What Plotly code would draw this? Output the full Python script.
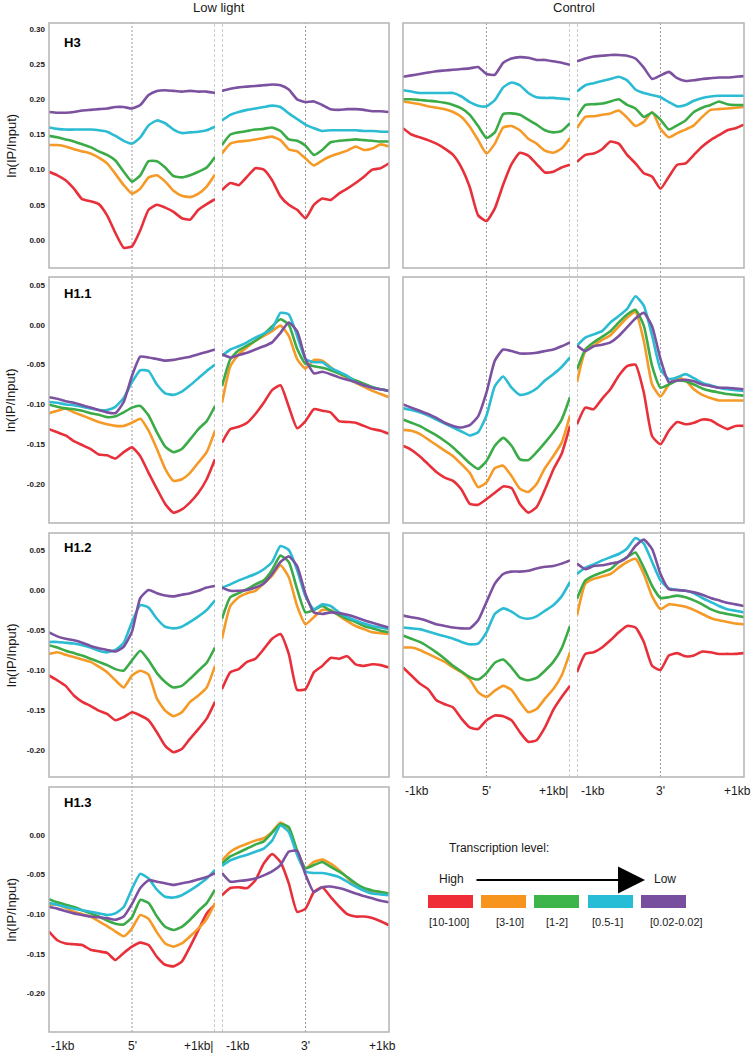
import plotly.graph_objects as go

W, H = 755, 1055

# ---------------- data ----------------
x_kb = [-1.0, -0.9, -0.8, -0.7, -0.6, -0.5, -0.4, -0.3, -0.2, -0.1, 0.0,
        0.1, 0.2, 0.3, 0.4, 0.5, 0.6, 0.7, 0.8, 0.9, 1.0]

levels = ["[10-100]", "[3-10]", "[1-2]", "[0.5-1]", "[0.02-0.02]"]
line_colors = ["#e8303a", "#f59a27", "#3bab48", "#2bbcd3", "#7b51a0"]
swatch_colors = ["#ee2d37", "#f7941d", "#3db54a", "#27bdd6", "#774f9e"]

histones = ["H3", "H1.1", "H1.2", "H1.3"]
conditions = ["Low light", "Control"]

# H3 - Low light
H3_LL_5_red = [0.097,0.092,0.085,0.073,0.058,0.055,0.051,0.035,0.010,-0.011,-0.009,0.014,0.043,0.050,0.046,0.040,0.031,0.029,0.043,0.051,0.058]
H3_LL_5_org = [0.135,0.135,0.133,0.129,0.126,0.123,0.117,0.109,0.094,0.078,0.066,0.073,0.089,0.092,0.083,0.070,0.063,0.061,0.066,0.076,0.093]
H3_LL_5_grn = [0.148,0.146,0.143,0.140,0.136,0.132,0.126,0.121,0.113,0.097,0.083,0.092,0.112,0.112,0.103,0.091,0.089,0.092,0.097,0.103,0.118]
H3_LL_5_cyn = [0.160,0.158,0.157,0.157,0.157,0.157,0.156,0.154,0.148,0.141,0.137,0.146,0.163,0.170,0.166,0.157,0.152,0.153,0.154,0.156,0.161]
H3_LL_5_pur = [0.182,0.181,0.181,0.182,0.184,0.185,0.186,0.187,0.189,0.189,0.187,0.192,0.206,0.212,0.213,0.212,0.211,0.212,0.211,0.211,0.209]
H3_LL_3_red = [0.071,0.081,0.078,0.090,0.102,0.100,0.085,0.062,0.050,0.043,0.031,0.050,0.059,0.057,0.066,0.073,0.081,0.090,0.100,0.102,0.109]
H3_LL_3_org = [0.123,0.137,0.140,0.141,0.143,0.145,0.147,0.142,0.129,0.126,0.116,0.106,0.113,0.119,0.123,0.127,0.133,0.128,0.130,0.136,0.133]
H3_LL_3_grn = [0.135,0.150,0.153,0.155,0.157,0.158,0.160,0.155,0.143,0.141,0.134,0.121,0.128,0.139,0.141,0.142,0.143,0.142,0.141,0.140,0.140]
H3_LL_3_cyn = [0.170,0.178,0.182,0.185,0.187,0.189,0.191,0.189,0.180,0.172,0.164,0.159,0.155,0.156,0.156,0.156,0.156,0.155,0.155,0.154,0.154]
H3_LL_3_pur = [0.212,0.215,0.217,0.218,0.219,0.220,0.221,0.220,0.214,0.200,0.196,0.197,0.192,0.186,0.185,0.186,0.186,0.185,0.183,0.183,0.182]

# H3 - Control
H3_CT_5_red = [0.159,0.150,0.146,0.142,0.137,0.130,0.121,0.103,0.075,0.035,0.027,0.045,0.079,0.108,0.124,0.120,0.108,0.096,0.097,0.103,0.107]
H3_CT_5_org = [0.197,0.195,0.193,0.190,0.188,0.186,0.182,0.175,0.161,0.142,0.123,0.137,0.160,0.162,0.156,0.144,0.137,0.127,0.124,0.130,0.145]
H3_CT_5_grn = [0.200,0.200,0.199,0.198,0.197,0.195,0.192,0.187,0.178,0.162,0.145,0.153,0.179,0.180,0.178,0.171,0.164,0.156,0.153,0.155,0.166]
H3_CT_5_cyn = [0.213,0.211,0.209,0.209,0.209,0.209,0.209,0.204,0.196,0.191,0.190,0.199,0.217,0.224,0.220,0.209,0.203,0.202,0.202,0.201,0.200]
H3_CT_5_pur = [0.232,0.234,0.236,0.238,0.240,0.241,0.242,0.243,0.244,0.246,0.236,0.235,0.252,0.258,0.260,0.259,0.256,0.256,0.254,0.252,0.249]
H3_CT_3_red = [0.111,0.121,0.123,0.129,0.140,0.137,0.121,0.109,0.095,0.090,0.073,0.090,0.107,0.109,0.121,0.133,0.142,0.149,0.156,0.159,0.164]
H3_CT_3_org = [0.159,0.175,0.176,0.178,0.180,0.184,0.174,0.162,0.168,0.182,0.158,0.146,0.152,0.157,0.163,0.175,0.185,0.186,0.187,0.188,0.189]
H3_CT_3_grn = [0.175,0.192,0.193,0.194,0.197,0.200,0.192,0.187,0.175,0.181,0.171,0.157,0.163,0.170,0.182,0.188,0.192,0.197,0.193,0.192,0.192]
H3_CT_3_cyn = [0.211,0.220,0.223,0.226,0.229,0.232,0.227,0.214,0.209,0.206,0.203,0.196,0.190,0.192,0.198,0.202,0.204,0.205,0.205,0.205,0.205]
H3_CT_3_pur = [0.254,0.258,0.261,0.262,0.263,0.263,0.262,0.258,0.245,0.229,0.234,0.239,0.230,0.226,0.227,0.229,0.230,0.231,0.231,0.232,0.233]

# H1.1 - Low light
H11_LL_5_red = [-0.131,-0.135,-0.139,-0.146,-0.151,-0.156,-0.163,-0.164,-0.168,-0.160,-0.154,-0.165,-0.186,-0.206,-0.225,-0.236,-0.232,-0.223,-0.211,-0.194,-0.169]
H11_LL_5_org = [-0.111,-0.108,-0.105,-0.110,-0.114,-0.118,-0.122,-0.125,-0.127,-0.127,-0.123,-0.118,-0.133,-0.156,-0.181,-0.196,-0.194,-0.186,-0.173,-0.160,-0.133]
H11_LL_5_grn = [-0.100,-0.103,-0.105,-0.106,-0.108,-0.111,-0.113,-0.116,-0.115,-0.110,-0.104,-0.102,-0.114,-0.135,-0.153,-0.160,-0.156,-0.144,-0.131,-0.121,-0.102]
H11_LL_5_cyn = [-0.097,-0.098,-0.100,-0.101,-0.103,-0.105,-0.107,-0.107,-0.103,-0.092,-0.072,-0.057,-0.058,-0.075,-0.086,-0.088,-0.084,-0.076,-0.067,-0.058,-0.050]
H11_LL_5_pur = [-0.091,-0.093,-0.096,-0.098,-0.101,-0.104,-0.107,-0.110,-0.111,-0.097,-0.064,-0.040,-0.041,-0.043,-0.045,-0.044,-0.042,-0.040,-0.037,-0.034,-0.031]
H11_LL_3_red = [-0.148,-0.131,-0.128,-0.123,-0.112,-0.098,-0.082,-0.076,-0.103,-0.130,-0.121,-0.106,-0.108,-0.110,-0.121,-0.122,-0.123,-0.127,-0.131,-0.133,-0.137]
H11_LL_3_org = [-0.098,-0.052,-0.037,-0.028,-0.020,-0.014,-0.008,-0.001,-0.014,-0.043,-0.055,-0.044,-0.045,-0.053,-0.061,-0.067,-0.073,-0.078,-0.083,-0.087,-0.091]
H11_LL_3_grn = [-0.077,-0.043,-0.032,-0.026,-0.020,-0.012,-0.002,0.007,0.000,-0.030,-0.049,-0.052,-0.054,-0.057,-0.061,-0.065,-0.070,-0.074,-0.078,-0.081,-0.083]
H11_LL_3_cyn = [-0.039,-0.031,-0.027,-0.022,-0.016,-0.011,-0.005,0.015,0.013,-0.014,-0.043,-0.047,-0.047,-0.054,-0.059,-0.064,-0.072,-0.076,-0.079,-0.081,-0.083]
H11_LL_3_pur = [-0.037,-0.041,-0.038,-0.035,-0.031,-0.027,-0.022,-0.010,0.003,-0.008,-0.043,-0.061,-0.059,-0.062,-0.066,-0.069,-0.072,-0.076,-0.079,-0.081,-0.083]

# H1.1 - Control
H11_CT_5_red = [-0.152,-0.157,-0.165,-0.175,-0.185,-0.192,-0.196,-0.207,-0.225,-0.226,-0.219,-0.211,-0.203,-0.205,-0.225,-0.236,-0.229,-0.207,-0.182,-0.162,-0.127]
H11_CT_5_org = [-0.132,-0.133,-0.137,-0.144,-0.151,-0.158,-0.165,-0.175,-0.186,-0.204,-0.198,-0.180,-0.177,-0.190,-0.206,-0.210,-0.200,-0.180,-0.165,-0.148,-0.114]
H11_CT_5_grn = [-0.119,-0.123,-0.127,-0.133,-0.139,-0.146,-0.154,-0.164,-0.174,-0.181,-0.171,-0.152,-0.142,-0.152,-0.169,-0.170,-0.160,-0.148,-0.135,-0.119,-0.091]
H11_CT_5_cyn = [-0.105,-0.107,-0.110,-0.114,-0.119,-0.124,-0.129,-0.134,-0.139,-0.135,-0.114,-0.077,-0.065,-0.079,-0.088,-0.086,-0.080,-0.070,-0.062,-0.053,-0.041]
H11_CT_5_pur = [-0.100,-0.104,-0.108,-0.112,-0.117,-0.123,-0.127,-0.129,-0.126,-0.115,-0.085,-0.045,-0.031,-0.033,-0.036,-0.036,-0.035,-0.033,-0.031,-0.027,-0.022]
H11_CT_3_red = [-0.125,-0.104,-0.106,-0.093,-0.081,-0.064,-0.052,-0.050,-0.085,-0.140,-0.150,-0.133,-0.122,-0.125,-0.123,-0.119,-0.120,-0.126,-0.131,-0.127,-0.127]
H11_CT_3_org = [-0.072,-0.033,-0.026,-0.019,-0.013,-0.002,0.009,0.016,-0.020,-0.075,-0.090,-0.075,-0.066,-0.070,-0.081,-0.088,-0.092,-0.095,-0.095,-0.095,-0.095]
H11_CT_3_grn = [-0.056,-0.031,-0.022,-0.015,-0.008,0.003,0.013,0.019,-0.001,-0.052,-0.079,-0.075,-0.070,-0.071,-0.075,-0.080,-0.083,-0.085,-0.087,-0.088,-0.089]
H11_CT_3_cyn = [-0.026,-0.016,-0.012,-0.008,0.003,0.011,0.020,0.036,0.024,-0.014,-0.056,-0.068,-0.066,-0.062,-0.067,-0.073,-0.076,-0.079,-0.081,-0.082,-0.083]
H11_CT_3_pur = [-0.026,-0.033,-0.027,-0.025,-0.022,-0.014,-0.003,0.008,0.015,-0.002,-0.043,-0.072,-0.070,-0.069,-0.071,-0.075,-0.077,-0.079,-0.079,-0.080,-0.081]

# H1.2 - Low light
H12_LL_5_red = [-0.107,-0.113,-0.120,-0.132,-0.140,-0.145,-0.151,-0.155,-0.163,-0.159,-0.153,-0.157,-0.163,-0.178,-0.195,-0.203,-0.199,-0.186,-0.174,-0.161,-0.140]
H12_LL_5_org = [-0.080,-0.078,-0.081,-0.084,-0.087,-0.090,-0.096,-0.103,-0.113,-0.122,-0.107,-0.101,-0.106,-0.136,-0.151,-0.158,-0.153,-0.140,-0.132,-0.122,-0.095]
H12_LL_5_grn = [-0.069,-0.072,-0.076,-0.079,-0.082,-0.086,-0.090,-0.094,-0.099,-0.101,-0.088,-0.076,-0.088,-0.104,-0.115,-0.122,-0.120,-0.111,-0.101,-0.091,-0.072]
H12_LL_5_cyn = [-0.065,-0.065,-0.066,-0.067,-0.069,-0.072,-0.076,-0.078,-0.075,-0.066,-0.040,-0.019,-0.022,-0.036,-0.046,-0.048,-0.046,-0.040,-0.033,-0.025,-0.013]
H12_LL_5_pur = [-0.053,-0.058,-0.061,-0.063,-0.066,-0.070,-0.073,-0.075,-0.077,-0.071,-0.052,-0.010,0.000,-0.004,-0.007,-0.008,-0.006,-0.004,-0.001,0.003,0.005]
H12_LL_3_red = [-0.124,-0.103,-0.099,-0.090,-0.086,-0.074,-0.061,-0.055,-0.080,-0.125,-0.124,-0.103,-0.095,-0.085,-0.086,-0.083,-0.093,-0.095,-0.093,-0.094,-0.097]
H12_LL_3_org = [-0.061,-0.020,-0.009,-0.004,-0.001,0.008,0.018,0.031,0.016,-0.020,-0.043,-0.034,-0.025,-0.025,-0.032,-0.039,-0.045,-0.049,-0.053,-0.054,-0.055]
H12_LL_3_grn = [-0.036,-0.009,-0.004,0.001,0.007,0.012,0.025,0.043,0.035,0.001,-0.028,-0.025,-0.020,-0.026,-0.031,-0.036,-0.040,-0.045,-0.048,-0.051,-0.053]
H12_LL_3_cyn = [0.003,0.007,0.012,0.016,0.020,0.026,0.035,0.055,0.050,0.025,-0.008,-0.024,-0.018,-0.020,-0.028,-0.034,-0.038,-0.042,-0.045,-0.047,-0.049]
H12_LL_3_pur = [0.003,-0.001,-0.001,0.000,0.003,0.008,0.020,0.035,0.042,0.030,-0.005,-0.028,-0.030,-0.028,-0.029,-0.031,-0.034,-0.038,-0.041,-0.044,-0.047]

# H1.2 - Control
H12_CT_5_red = [-0.097,-0.107,-0.117,-0.124,-0.138,-0.143,-0.147,-0.161,-0.172,-0.174,-0.163,-0.157,-0.158,-0.163,-0.178,-0.190,-0.188,-0.172,-0.150,-0.134,-0.120]
H12_CT_5_org = [-0.072,-0.072,-0.075,-0.080,-0.085,-0.090,-0.097,-0.103,-0.112,-0.128,-0.134,-0.126,-0.120,-0.125,-0.140,-0.153,-0.149,-0.136,-0.124,-0.107,-0.078]
H12_CT_5_grn = [-0.057,-0.061,-0.065,-0.071,-0.078,-0.086,-0.095,-0.102,-0.109,-0.112,-0.104,-0.091,-0.087,-0.097,-0.110,-0.113,-0.110,-0.101,-0.090,-0.073,-0.045]
H12_CT_5_cyn = [-0.047,-0.048,-0.049,-0.052,-0.055,-0.058,-0.061,-0.065,-0.068,-0.067,-0.053,-0.030,-0.023,-0.027,-0.034,-0.036,-0.033,-0.026,-0.019,-0.008,0.010]
H12_CT_5_pur = [-0.032,-0.034,-0.036,-0.039,-0.043,-0.045,-0.047,-0.048,-0.048,-0.038,-0.015,0.008,0.020,0.023,0.023,0.024,0.027,0.029,0.030,0.033,0.037]
H12_CT_3_red = [-0.103,-0.080,-0.078,-0.072,-0.063,-0.053,-0.045,-0.047,-0.065,-0.095,-0.100,-0.082,-0.079,-0.083,-0.082,-0.077,-0.078,-0.080,-0.080,-0.080,-0.079]
H12_CT_3_org = [-0.032,0.008,0.014,0.017,0.020,0.028,0.035,0.039,0.020,-0.008,-0.024,-0.018,-0.019,-0.021,-0.025,-0.030,-0.035,-0.038,-0.040,-0.042,-0.043]
H12_CT_3_grn = [-0.011,0.012,0.018,0.022,0.026,0.035,0.041,0.047,0.028,0.005,-0.010,-0.009,-0.007,-0.009,-0.013,-0.018,-0.024,-0.028,-0.030,-0.032,-0.034]
H12_CT_3_cyn = [0.020,0.028,0.032,0.037,0.041,0.045,0.052,0.065,0.058,0.035,0.012,0.002,0.000,-0.001,-0.004,-0.010,-0.015,-0.020,-0.024,-0.026,-0.028]
H12_CT_3_pur = [0.033,0.026,0.030,0.031,0.033,0.035,0.041,0.055,0.063,0.051,0.020,0.001,0.000,-0.001,-0.003,-0.006,-0.010,-0.013,-0.016,-0.018,-0.020]

# H1.3 - Low light
H13_LL_5_red = [-0.122,-0.133,-0.137,-0.138,-0.139,-0.145,-0.147,-0.149,-0.158,-0.149,-0.141,-0.136,-0.139,-0.154,-0.164,-0.166,-0.160,-0.141,-0.120,-0.099,-0.088]
H13_LL_5_org = [-0.088,-0.088,-0.092,-0.097,-0.100,-0.103,-0.109,-0.115,-0.122,-0.128,-0.118,-0.101,-0.106,-0.123,-0.137,-0.141,-0.137,-0.128,-0.118,-0.106,-0.086]
H13_LL_5_grn = [-0.081,-0.085,-0.088,-0.091,-0.095,-0.099,-0.103,-0.108,-0.112,-0.113,-0.104,-0.082,-0.086,-0.103,-0.116,-0.120,-0.116,-0.107,-0.096,-0.086,-0.069]
H13_LL_5_cyn = [-0.086,-0.088,-0.091,-0.093,-0.095,-0.097,-0.099,-0.101,-0.099,-0.091,-0.068,-0.049,-0.055,-0.069,-0.078,-0.079,-0.076,-0.070,-0.063,-0.055,-0.044]
H13_LL_5_pur = [-0.091,-0.093,-0.096,-0.099,-0.101,-0.103,-0.104,-0.105,-0.107,-0.103,-0.087,-0.067,-0.057,-0.059,-0.061,-0.063,-0.061,-0.059,-0.056,-0.053,-0.048]
H13_LL_3_red = [-0.076,-0.067,-0.066,-0.067,-0.057,-0.036,-0.024,-0.034,-0.061,-0.097,-0.093,-0.072,-0.066,-0.078,-0.090,-0.100,-0.103,-0.103,-0.105,-0.109,-0.114]
H13_LL_3_org = [-0.032,-0.021,-0.015,-0.011,-0.007,-0.004,0.004,0.016,0.008,-0.020,-0.042,-0.034,-0.031,-0.036,-0.044,-0.054,-0.064,-0.070,-0.071,-0.072,-0.074]
H13_LL_3_grn = [-0.036,-0.027,-0.022,-0.017,-0.012,-0.008,0.003,0.014,0.010,-0.020,-0.042,-0.038,-0.034,-0.040,-0.046,-0.053,-0.061,-0.067,-0.070,-0.072,-0.074]
H13_LL_3_cyn = [-0.039,-0.032,-0.028,-0.025,-0.021,-0.017,-0.007,0.012,0.004,-0.025,-0.046,-0.048,-0.048,-0.050,-0.053,-0.059,-0.065,-0.070,-0.074,-0.075,-0.076]
H13_LL_3_pur = [-0.048,-0.059,-0.058,-0.057,-0.055,-0.051,-0.046,-0.038,-0.021,-0.020,-0.050,-0.072,-0.066,-0.065,-0.067,-0.070,-0.074,-0.077,-0.080,-0.083,-0.085]

# y tick labels per histone row
yticks_H3 = [0.00, 0.05, 0.10, 0.15, 0.20, 0.25, 0.30]
yticks_H11 = [-0.20, -0.15, -0.10, -0.05, 0.00, 0.05]
yticks_H12 = [-0.20, -0.15, -0.10, -0.05, 0.00, 0.05]
yticks_H13 = [-0.20, -0.15, -0.10, -0.05, 0.00]

x_tick_text_5 = ["-1kb", "5'", "+1kb|"]
x_tick_text_3 = ["-1kb", "3'", "+1kb"]

# ---------------- layout geometry (pixels) ----------------
def PX(x):
    return x / W


def PY(y):
    return 1 - y / H


col_halves = [[(49, 215), (222, 389)], [(403, 570), (577, 744)]]
row_px = [(23, 268), (277, 523), (533, 777), (787, 1032)]
y_ranges = [(-0.0398, 0.3085), (-0.249, 0.0601), (-0.234, 0.0713), (-0.249, 0.0608)]
row_ticks = [yticks_H3, yticks_H11, yticks_H12, yticks_H13]

panel_data = {
    (0, 0): ([H3_LL_5_red, H3_LL_5_org, H3_LL_5_grn, H3_LL_5_cyn, H3_LL_5_pur],
             [H3_LL_3_red, H3_LL_3_org, H3_LL_3_grn, H3_LL_3_cyn, H3_LL_3_pur]),
    (0, 1): ([H3_CT_5_red, H3_CT_5_org, H3_CT_5_grn, H3_CT_5_cyn, H3_CT_5_pur],
             [H3_CT_3_red, H3_CT_3_org, H3_CT_3_grn, H3_CT_3_cyn, H3_CT_3_pur]),
    (1, 0): ([H11_LL_5_red, H11_LL_5_org, H11_LL_5_grn, H11_LL_5_cyn, H11_LL_5_pur],
             [H11_LL_3_red, H11_LL_3_org, H11_LL_3_grn, H11_LL_3_cyn, H11_LL_3_pur]),
    (1, 1): ([H11_CT_5_red, H11_CT_5_org, H11_CT_5_grn, H11_CT_5_cyn, H11_CT_5_pur],
             [H11_CT_3_red, H11_CT_3_org, H11_CT_3_grn, H11_CT_3_cyn, H11_CT_3_pur]),
    (2, 0): ([H12_LL_5_red, H12_LL_5_org, H12_LL_5_grn, H12_LL_5_cyn, H12_LL_5_pur],
             [H12_LL_3_red, H12_LL_3_org, H12_LL_3_grn, H12_LL_3_cyn, H12_LL_3_pur]),
    (2, 1): ([H12_CT_5_red, H12_CT_5_org, H12_CT_5_grn, H12_CT_5_cyn, H12_CT_5_pur],
             [H12_CT_3_red, H12_CT_3_org, H12_CT_3_grn, H12_CT_3_cyn, H12_CT_3_pur]),
    (3, 0): ([H13_LL_5_red, H13_LL_5_org, H13_LL_5_grn, H13_LL_5_cyn, H13_LL_5_pur],
             [H13_LL_3_red, H13_LL_3_org, H13_LL_3_grn, H13_LL_3_cyn, H13_LL_3_pur]),
}

fig = go.Figure()
layout = {}
shapes = []
annotations = []

GRID = "#9a9a9a"
BORDER = "#b4b4b4"
TXT = "#1a1a1a"
FONT = "Arial, Liberation Sans, sans-serif"
NARROW = "Liberation Sans Narrow, Arial Narrow, Arial, sans-serif"

axis_index = {}
idx = 0
for (r, c), halves in panel_data.items():
    y0p, y1p = row_px[r]
    for h in range(2):
        idx += 1
        axis_index[(r, c, h)] = idx
        x0p, x1p = col_halves[c][h]
        xa = "xaxis" if idx == 1 else f"xaxis{idx}"
        ya = "yaxis" if idx == 1 else f"yaxis{idx}"
        xs = "x" if idx == 1 else f"x{idx}"
        ys = "y" if idx == 1 else f"y{idx}"
        layout[xa] = dict(domain=[PX(x0p), PX(x1p)], range=[-1, 1], anchor=ys,
                          showgrid=False, zeroline=False, showticklabels=False,
                          ticks="", showline=False, fixedrange=True)
        show_y = (c == 0 and h == 0)
        ya_dict = dict(domain=[PY(y1p), PY(y0p)], range=list(y_ranges[r]), anchor=xs,
                       showgrid=False, zeroline=False, ticks="", showline=False,
                       fixedrange=True, showticklabels=show_y)
        if show_y:
            ya_dict.update(tickvals=row_ticks[r],
                           ticktext=[f"{v:.2f}" for v in row_ticks[r]],
                           tickfont=dict(size=8, family=FONT, color=TXT, weight="bold"),
                           ticklabelstandoff=3)
        layout[ya] = ya_dict
        for k, vals in enumerate(halves[h]):
            fig.add_trace(go.Scatter(
                x=x_kb, y=vals, mode="lines", xaxis=xs, yaxis=ys,
                line=dict(color=line_colors[k], width=2.6, shape="spline", smoothing=0.5),
                showlegend=False, hoverinfo="skip", name=levels[k]))

    # panel border
    x0p = col_halves[c][0][0]
    x1p = col_halves[c][1][1]
    shapes.append(dict(type="rect", xref="paper", yref="paper",
                       x0=PX(x0p), x1=PX(x1p), y0=PY(y1p), y1=PY(y0p),
                       line=dict(color=BORDER, width=1.5), layer="above"))

# vertical reference lines spanning the whole column
for c in range(2):
    rows_in_col = [r for (r, cc) in panel_data if cc == c]
    top = row_px[min(rows_in_col)][0]
    bot = row_px[max(rows_in_col)][1]
    a5 = axis_index[(0, c, 0)]
    a3 = axis_index[(0, c, 1)]
    xr5 = "x" if a5 == 1 else f"x{a5}"
    xr3 = f"x{a3}"
    for xr, xv, dash in [(xr5, 0, "2px,2px"), (xr5, 1, "3px,2px"),
                         (xr3, -1, "3px,2px"), (xr3, 0, "2px,2px")]:
        shapes.append(dict(type="line", xref=xr, yref="paper", x0=xv, x1=xv,
                           y0=PY(bot), y1=PY(top),
                           line=dict(color=GRID, width=1, dash=dash), layer="below"))

    # x tick labels under the bottom panel of the column
    rb = max(rows_in_col)
    ylab = PY(row_px[rb][1] + 14)
    for h, texts in [(0, x_tick_text_5), (1, x_tick_text_3)]:
        a = axis_index[(rb, c, h)]
        xr = "x" if a == 1 else f"x{a}"
        if h == 0:
            specs = [("left", 0), ("center", 0), ("right", 0)]
        else:
            specs = [("left", 2), ("center", 0), ("right", 9)]
        for xv, t, (anc, shift) in zip([-1, 0, 1], texts, specs):
            annotations.append(dict(xref=xr, yref="paper", x=xv, y=ylab, text=t,
                                    showarrow=False, xanchor=anc, yanchor="middle",
                                    xshift=shift,
                                    font=dict(size=12, family=NARROW, color=TXT)))

# row labels: histone names and y-axis titles
label_y = [43, 293, 547, 802]
for r, name in enumerate(histones):
    annotations.append(dict(xref="paper", yref="paper", x=PX(62), y=PY(label_y[r]),
                            text=name, showarrow=False, xanchor="left", yanchor="middle",
                            font=dict(size=13, family=FONT, color="#000", weight="bold")))
    mid = (row_px[r][0] + row_px[r][1]) / 2
    annotations.append(dict(xref="paper", yref="paper", x=PX(11), y=PY(mid),
                            text="ln(IP/Input)", textangle=-90, showarrow=False,
                            xanchor="center", yanchor="middle",
                            font=dict(size=13, family=FONT, color=TXT)))

# column titles
for c, title in enumerate(conditions):
    cx = (col_halves[c][0][0] + col_halves[c][1][1]) / 2
    annotations.append(dict(xref="paper", yref="paper", x=PX(cx), y=PY(8),
                            text=title, showarrow=False, xanchor="center", yanchor="middle",
                            font=dict(size=13, family=FONT, color=TXT)))

# legend block
annotations.append(dict(xref="paper", yref="paper", x=PX(447), y=PY(848),
                        text="Transcription level:", showarrow=False,
                        xanchor="left", yanchor="middle",
                        font=dict(size=12, family=FONT, color=TXT)))
annotations.append(dict(xref="paper", yref="paper", x=PX(466), y=PY(879),
                        text="High", showarrow=False, xanchor="right", yanchor="middle",
                        font=dict(size=12, family=FONT, color=TXT)))
annotations.append(dict(xref="paper", yref="paper", x=PX(652), y=PY(879),
                        text="Low", showarrow=False, xanchor="left", yanchor="middle",
                        font=dict(size=12, family=FONT, color=TXT)))
annotations.append(dict(xref="paper", yref="paper", x=PX(645), y=PY(880),
                        ax=-(645 - 475), ay=0,
                        text="", showarrow=True, arrowhead=2, arrowsize=2.7,
                        arrowwidth=2, arrowcolor="#000"))

sw_left = [428, 481, 534, 588, 641]
sw_label_cx = [449, 510, 557, 607, 676]
for k in range(5):
    shapes.append(dict(type="rect", xref="paper", yref="paper",
                       x0=PX(sw_left[k]), x1=PX(sw_left[k] + 45),
                       y0=PY(908), y1=PY(895),
                       fillcolor=swatch_colors[k], line=dict(width=0)))
    annotations.append(dict(xref="paper", yref="paper", x=PX(sw_label_cx[k]), y=PY(922),
                            text=levels[k], showarrow=False, xanchor="center",
                            yanchor="middle",
                            font=dict(size=11, family=FONT, color=TXT)))

fig.update_layout(**layout)
fig.update_layout(width=W, height=H, margin=dict(l=0, r=0, t=0, b=0),
                  paper_bgcolor="white", plot_bgcolor="white",
                  shapes=shapes, annotations=annotations, showlegend=False)

fig.write_html("out.html", include_plotlyjs=True, config={"displayModeBar": False},
               post_script="document.body.style.margin='0';document.body.style.overflow='hidden';")
